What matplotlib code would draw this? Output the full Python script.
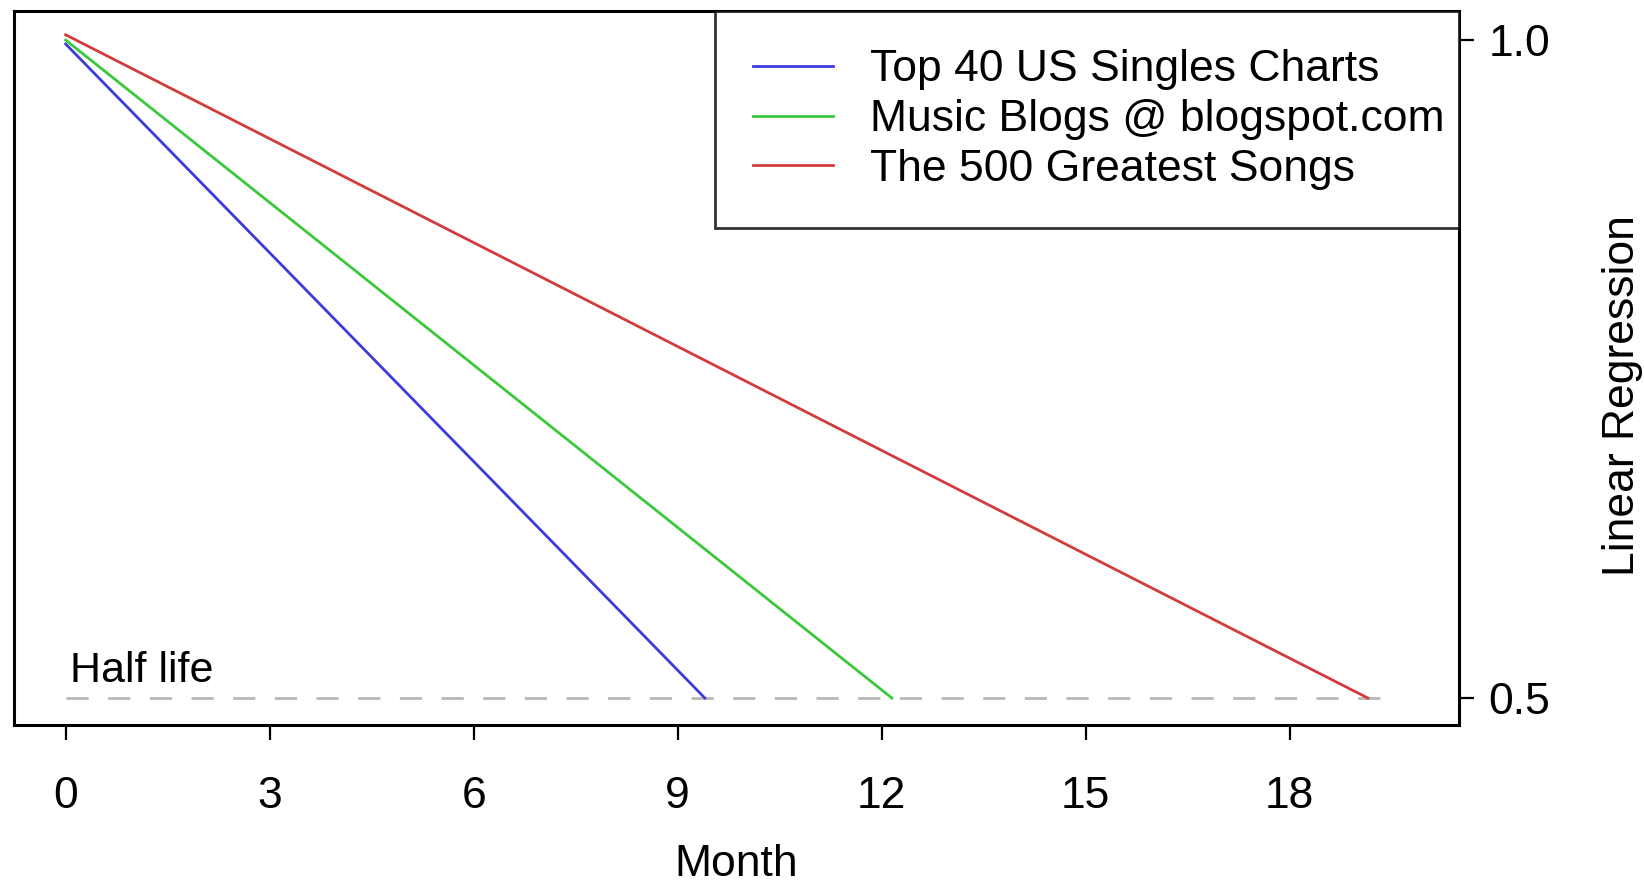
import matplotlib
matplotlib.use("Agg")
import matplotlib.pyplot as plt

plt.rcParams['font.family'] = ['Liberation Sans', 'DejaVu Sans']

# half-life lines: start value at month 0, month where it hits 0.5
labels = ["Top 40 US Singles Charts", "Music Blogs @ blogspot.com", "The 500 Greatest Songs"]
colors = ["#3c3cdc", "#3cc83c", "#d23c3c"]
start_vals = [0.997, 1.0, 1.004]
half_life = [9.4, 12.15, 19.15]
half_level = 0.5
dash_end = 19.4

x_ticks = [0, 3, 6, 9, 12, 15, 18]
y_ticks = [0.5, 1.0]

fig = plt.figure(figsize=(16.44, 8.84), dpi=100)
ax = fig.add_axes([0.0085, 0.1804, 0.8790, 0.8066])

ax.plot([0, dash_end], [half_level, half_level], color="#b8b8b8",
        linestyle=(0, (8, 7)), linewidth=2.0, zorder=1)
for lab, c, s, h in zip(labels, colors, start_vals, half_life):
    ax.plot([0, h], [s, half_level], color=c, linewidth=2.0, label=lab, zorder=2)

ax.text(0.07, 0.5205, "Half life", fontsize=31, ha="left", va="center")

ax.set_xlim(-0.76, 20.49)
ax.set_ylim(0.4799, 1.0217)
ax.set_xticks(x_ticks)
ax.set_xticklabels([str(t) for t in x_ticks])
ax.set_yticks(y_ticks)
ax.set_yticklabels(["0.5", "1.0"])
ax.yaxis.tick_right()
ax.yaxis.set_label_position("right")
ax.tick_params(axis="both", direction="out", length=11, width=1.6,
               labelsize=32, color="black")
ax.tick_params(axis="x", pad=26)
ax.tick_params(axis="y", pad=10)
for sp in ax.spines.values():
    sp.set_linewidth(2.2)

ax.set_xlabel("Month", fontsize=32)
ax.xaxis.set_label_coords(0.5, -0.168)
ax.set_ylabel("Linear Regression", fontsize=32, rotation=90)
ax.yaxis.set_label_coords(1.099, 0.461)

leg = ax.legend(loc="upper right", bbox_to_anchor=(0.485, 0, 0.515, 1),
                mode="expand", borderaxespad=0,
                fontsize=32, frameon=True, fancybox=False, edgecolor="black",
                handlelength=1.8, handletextpad=0.85, labelspacing=0.2,
                borderpad=0.85)
leg.get_frame().set_linewidth(2.0)

fig.savefig("out.png", dpi=100)
